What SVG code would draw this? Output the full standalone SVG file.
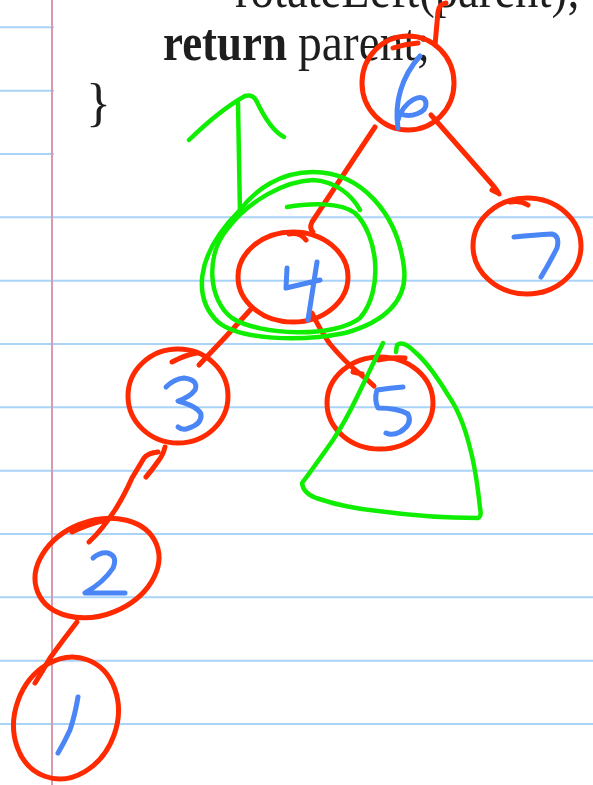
<svg xmlns="http://www.w3.org/2000/svg" width="593" height="785" viewBox="0 0 593 785">
<style>
.rule{stroke:#a9d3f7;stroke-width:2;fill:none}
.margin{stroke:#d89aae;stroke-width:2;fill:none}
.red{stroke:#ff2a00;stroke-width:5;fill:none;stroke-linecap:round;stroke-linejoin:round}
.blue{stroke:#4a86f5;stroke-width:5;fill:none;stroke-linecap:round;stroke-linejoin:round}
.green{stroke:#10ee00;stroke-width:4.5;fill:none;stroke-linecap:round;stroke-linejoin:round}
.code{font-family:"Liberation Serif","Times New Roman",serif;fill:#1e1e1e;font-size:52px}
</style>
<rect width="593" height="785" fill="#ffffff"/>
<g id="paper">
<line class="rule" x1="0" y1="27.3" x2="54" y2="27.3"/>
<line class="rule" x1="0" y1="90.7" x2="54" y2="90.7"/>
<line class="rule" x1="0" y1="154" x2="54" y2="154"/>
<line class="rule" x1="0" y1="217.3" x2="593" y2="217.3"/>
<line class="rule" x1="0" y1="280.7" x2="593" y2="280.7"/>
<line class="rule" x1="0" y1="344" x2="593" y2="344"/>
<line class="rule" x1="0" y1="407.3" x2="593" y2="407.3"/>
<line class="rule" x1="0" y1="470.7" x2="593" y2="470.7"/>
<line class="rule" x1="0" y1="534" x2="593" y2="534"/>
<line class="rule" x1="0" y1="597.3" x2="593" y2="597.3"/>
<line class="rule" x1="0" y1="660.7" x2="593" y2="660.7"/>
<line class="rule" x1="0" y1="724" x2="593" y2="724"/>
<line class="margin" x1="52" y1="0" x2="52" y2="785"/>
</g>
<g id="code">
<text class="code" x="235" y="7" textLength="345" lengthAdjust="spacingAndGlyphs">rotateLeft(parent);</text>
<text class="code" x="163" y="60"><tspan font-weight="bold" textLength="124" lengthAdjust="spacingAndGlyphs">return</tspan><tspan x="298" textLength="132" lengthAdjust="spacingAndGlyphs">parent;</tspan></text>
<text class="code" x="86" y="120">}</text>
</g>
<g id="connectors">
<path class="red" d="M435,45 L438,12 Q439,4 446,3"/>
<path class="red" d="M375,127 Q345,172 312,222 Q309,228 313,232"/>
<path class="red" d="M431,115 Q462,150 490,182 Q497,190 499,194 M492,190 L498,193"/>
<path class="red" d="M252,308 Q225,338 199,365 M172,362 Q185,355 197,353"/>
<path class="red" d="M312,313 Q320,330 330,344 Q345,362 360,374 Q368,380 374,386 M353,372 L362,374"/>
<path class="red" d="M165,447 Q163,455 159,460 Q152,470 146,477 M158,452 Q148,453 144,458 Q138,468 132,478 Q124,496 115,510 Q102,530 89,542 M72,532 Q88,524 106,520"/>
<path class="red" d="M77,622 Q63,640 50,658 Q42,672 35,683"/>
</g>
<g id="node6">
<ellipse class="red" cx="408" cy="83" rx="46" ry="47"/>
<path class="red" d="M393,48 Q405,44 418,43"/>
<path class="blue" d="M420,56 C402,76 394,102 398,128 M398,120 C402,102 424,90 426,103 C427,113 410,118 401,114"/>
</g>
<g id="node7">
<ellipse class="red" cx="527" cy="246" rx="54" ry="48"/>
<path class="red" d="M510,202 Q520,200 528,205"/>
<path class="blue" d="M514,237 Q535,235 552,234 Q560,236 557,248 Q550,262 541,277"/>
</g>
<g id="node4">
<ellipse class="red" cx="293" cy="277" rx="55" ry="45"/>
<path class="red" d="M289,234 Q300,232 306,240"/>
<path class="blue" d="M287,268 L286,288 L320,280 M317,262 L308,320"/>
</g>
<g id="node3">
<ellipse class="red" cx="178" cy="396" rx="50" ry="47"/>
<path class="blue" d="M166,387 Q174,379 184,378 Q199,380 195,390 Q190,397 178,401 Q197,406 201,414 Q202,424 189,428 Q183,431 178,427"/>
</g>
<g id="node5">
<ellipse class="red" cx="380" cy="403" rx="53" ry="46"/>
<path class="red" d="M378,360 Q392,357 405,358"/>
<path class="blue" d="M403,387 Q390,388 377,390 Q374,400 378,408 Q398,408 408,414 Q413,424 400,432 Q392,436 386,433"/>
</g>
<g id="node2">
<ellipse class="red" cx="97" cy="568" rx="64" ry="47" transform="rotate(-22 97 568)"/>
<path class="blue" d="M93,558 Q100,552 108,553 Q118,556 113,568 Q104,582 85,593 L125,593"/>
</g>
<g id="node1">
<ellipse class="red" cx="66" cy="718" rx="51" ry="62" transform="rotate(20 66 718)"/>
<path class="blue" d="M78,697 Q75,715 70,730 Q64,743 58,753"/>
</g>
<g id="annotations">
<path class="green" d="M240,214 L238,103 M189,140 Q220,110 245,96 Q252,94 256,100 Q270,130 284,137"/>
<path class="green" d="M287,207 C310,203 340,202 355,213 C378,235 384,290 360,318 C335,338 260,336 232,318 C208,300 205,255 228,228 C250,200 285,181 313,180 C335,181 352,195 360,210"/>
<path class="green" d="M240,210 C255,190 280,172 313,172 C362,172 398,215 404,268 C408,300 385,322 345,333 C300,342 240,340 218,322 C195,300 192,258 240,210"/>
<path class="green" d="M383,343 Q370,370 358,395 Q345,422 333,440 Q312,470 302,483 Q303,493 316,498 Q345,508 378,511 Q430,518 478,518 Q482,516 480,508 Q476,470 470,448 Q462,415 448,395 Q430,365 415,352 Q403,340 397,345 L396,352"/>
</g>
</svg>
